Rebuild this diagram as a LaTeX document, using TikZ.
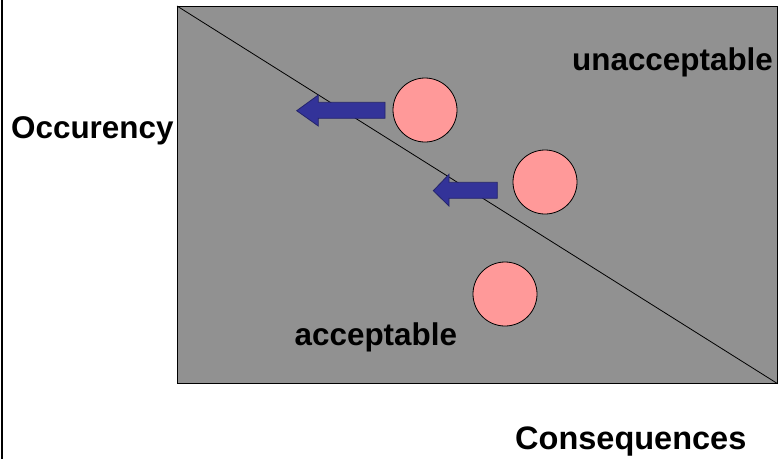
\documentclass[tikz,border=0pt]{standalone}
\usepackage{fontspec}
\setmainfont{Liberation Sans}
\definecolor{bggray}{HTML}{919191}
\definecolor{arrowblue}{HTML}{333399}
\definecolor{dotpink}{HTML}{FF9999}
\begin{document}
\begin{tikzpicture}[x=1pt,y=-1pt,
  lbl/.style={anchor=base west,inner sep=0pt,font=\fontsize{31.4}{34}\selectfont\bfseries},
  dot/.style={circle,draw=black,line width=0.8pt,fill=dotpink,minimum size=64pt,inner sep=0pt},
  movearrow/.style={fill=arrowblue,draw=arrowblue!70!black,line width=0.8pt,line join=miter}]
\useasboundingbox (0,0) rectangle (778,459);
\fill[white] (0,0) rectangle (778,459);
\draw[line width=2pt] (2,0) -- (2,459);
\node[draw=black,line width=0.8pt,fill=bggray,minimum width=600pt,minimum height=377pt,inner sep=0pt,anchor=north west] (field) at (177,6) {};
\draw[line width=0.8pt] (field.north west) -- (field.south east);
\node[dot] (c1) at (425,110) {};
\node[dot] (c2) at (545,182) {};
\node[dot] (c3) at (505,294) {};
\draw[movearrow] (385,102.3) -- (318.3,102.3) -- (318.3,95) -- (296.7,110.7) -- (318.3,126) -- (318.3,118.3) -- (385,118.3) -- cycle;
\draw[movearrow] (497.3,182.3) -- (449,182.3) -- (449,174.3) -- (433.3,190.7) -- (449,206) -- (449,198.3) -- (497.3,198.3) -- cycle;
\node[lbl] (occ) at (11,138.3) {Occurency};
\node[lbl] (unacc) at (572,70) {unacceptable};
\node[lbl] (acc) at (294.5,345) {acceptable};
\node[lbl,font=\fontsize{32.5}{35}\selectfont\bfseries] (cons) at (515,449.3) {Consequences};
\end{tikzpicture}
\end{document}
